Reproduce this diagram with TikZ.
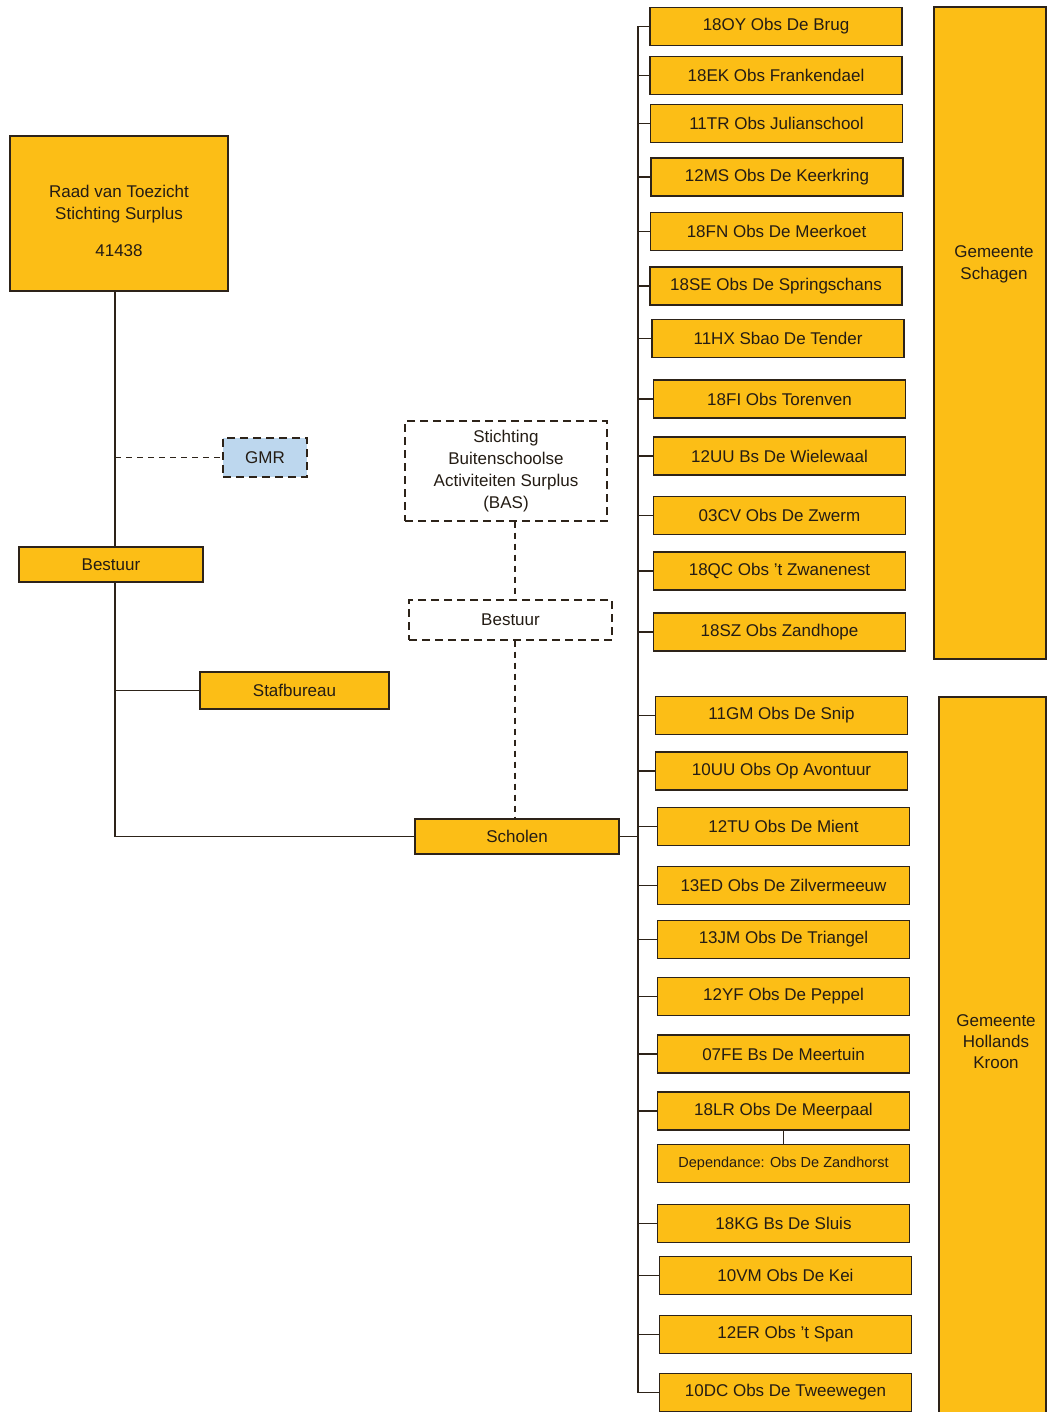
\documentclass[tikz,border=0pt]{standalone}
\usepackage{fontspec}
\setmainfont{Liberation Sans}
\usepackage{tikz}
\usetikzlibrary{positioning,calc}

\definecolor{surplus}{RGB}{252,190,22}
\definecolor{gmrblue}{RGB}{189,215,238}
\definecolor{boxline}{RGB}{45,35,25}
\definecolor{ink}{RGB}{36,28,20}

\tikzset{
  orgbox/.style={draw=boxline, fill=surplus, line width=1.3pt, text=ink,
    font=\fontsize{17}{22}\selectfont, inner sep=0pt, align=center},
  boxtext/.style={text=ink, font=\fontsize{17}{22}\selectfont, align=center},
  school/.style={orgbox, minimum width=252pt, minimum height=38pt},
  dashbox/.style={orgbox, fill=white, dash pattern=on 8pt off 5pt},
  link/.style={draw=boxline, line width=1.4pt},
  dashlink/.style={link, dash pattern=on 6pt off 5pt}
}

\begin{document}
\begin{tikzpicture}[x=1pt, y=-1pt]
  \useasboundingbox (0,0) rectangle (1046,1412);

  % left side
  \node[orgbox, minimum width=218pt, minimum height=155pt] (raad) at (119,213.5) {};
  \node[boxtext] (raadtxt) at (119,220.5)
    {Raad van Toezicht\\Stichting Surplus\\[15pt]41438};
  \node[orgbox, fill=gmrblue, dash pattern=on 8pt off 5pt,
        minimum width=84pt, minimum height=39pt] (gmr) at (265,457.5) {GMR};
  \node[orgbox, minimum width=184pt, minimum height=35pt] (bestuur) at (111,564.5) {Bestuur};
  \node[orgbox, minimum width=189pt, minimum height=37pt] (staf) at (294.5,690.5) {Stafbureau};
  \node[orgbox, minimum width=204pt, minimum height=35pt] (scholen) at (517,836.5) {Scholen};

  % BAS
  \node[dashbox, minimum width=202pt, minimum height=100pt] (bas) at (506,471)
    {Stichting\\Buitenschoolse\\Activiteiten Surplus\\(BAS)};
  \node[dashbox, minimum width=203pt, minimum height=40pt] (basbestuur) at (510.5,620) {Bestuur};

  \coordinate (spine) at (115,0);
  \coordinate (baslane) at (515,0);
  \coordinate (trunk) at (638,0);

  \draw[link] (raad.south -| spine) -- (bestuur.north -| spine);
  \draw[link] (bestuur.south -| spine) |- (scholen.west);
  \draw[link] (spine |- staf.west) -- (staf.west);
  \draw[dashlink] (spine |- gmr.west) -- (gmr.west);
  \draw[dashlink] (bas.south -| baslane) -- (basbestuur.north -| baslane);
  \draw[dashlink] (basbestuur.south -| baslane) -- (scholen.north -| baslane);

  % schools
  \foreach \cx/\cy/\t [count=\i] in {
      776/26.5/18OY Obs De Brug,
      776/75.5/18EK Obs Frankendael,
      776.5/123.5/11TR Obs Julianschool,
      777/177/12MS Obs De Keerkring,
      776.5/231.5/18FN Obs De Meerkoet,
      776/286/18SE Obs De Springschans,
      778/338.5/11HX Sbao De Tender,
      779.5/399/18FI Obs Torenven,
      779.5/456/12UU Bs De Wielewaal,
      779.5/515.5/03CV Obs De Zwerm,
      779.5/571/18QC Obs 't Zwanenest,
      779.5/632/18SZ Obs Zandhope,
      781.5/715.5/11GM Obs De Snip,
      781.5/771/10UU Obs Op Avontuur,
      783.5/826.5/12TU Obs De Mient,
      783.5/885.5/13ED Obs De Zilvermeeuw,
      783.5/939.5/13JM Obs De Triangel,
      783.5/996.5/12YF Obs De Peppel,
      783.5/1054/07FE Bs De Meertuin,
      783.5/1111/18LR Obs De Meerpaal,
      783.5/1223.5/18KG Bs De Sluis,
      785.5/1275.5/10VM Obs De Kei,
      785.5/1334.5/12ER Obs 't Span,
      785.5/1392.5/10DC Obs De Tweewegen}
    \node[school] (s\i) at (\cx,\cy) {\t};

  \node[school, font=\fontsize{14.5}{18}\selectfont] (dep) at (783.5,1163.5)
    {Dependance: Obs De Zandhorst};
  \draw[link] (s20.south) -- (dep.north);

  \draw[link] (s1.west -| trunk) -- (s24.west -| trunk);
  \foreach \i in {1,...,24}
    \draw[link] (s\i.west -| trunk) -- (s\i.west);
  \draw[link] (scholen.east) -- (scholen.east -| trunk);

  % municipalities
  \node[orgbox, minimum width=112pt, minimum height=652pt] (schagen) at (990,333) {};
  \node[boxtext] (schagentxt) at (994,264) {Gemeente\\Schagen};
  \node[orgbox, minimum width=107pt, minimum height=716pt] (kroon) at (992.5,1055) {};
  \node[boxtext, font=\fontsize{17}{21}\selectfont] (kroontxt)
    at (996,1042) {Gemeente\\Hollands\\Kroon};
\end{tikzpicture}
\end{document}
